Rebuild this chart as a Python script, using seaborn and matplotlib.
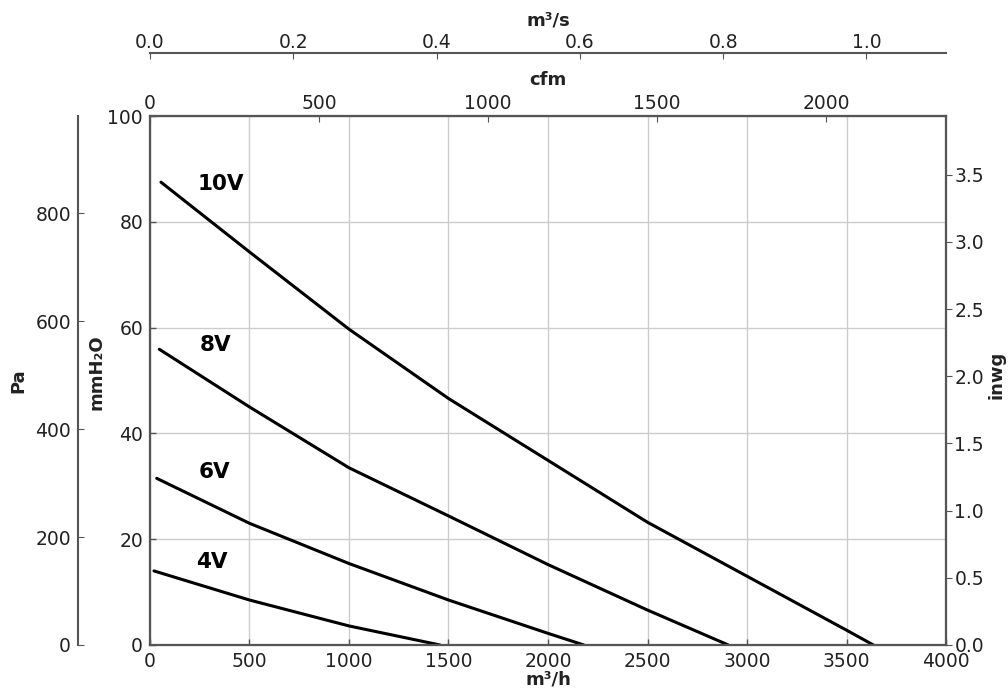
import numpy as np
import pandas as pd
import seaborn as sns
import matplotlib.pyplot as plt
from matplotlib.ticker import FormatStrFormatter

# fan curves: airflow in m3/h, static pressure in mmH2O
speeds = ['10V', '8V', '6V', '4V']
flow_10v = [55, 500, 1000, 1500, 2000, 2500, 3000, 3500, 3635]
pres_10v = [87.5, 74.3, 59.7, 46.6, 34.9, 23.2, 13.0, 2.8, 0.0]
flow_8v = [47, 500, 1000, 1500, 2000, 2500, 2906]
pres_8v = [55.9, 45.0, 33.5, 24.4, 15.2, 6.6, 0.0]
flow_6v = [34, 500, 1000, 1500, 2000, 2180]
pres_6v = [31.5, 23.0, 15.4, 8.5, 2.2, 0.0]
flow_4v = [20, 500, 1000, 1457]
pres_4v = [14.0, 8.5, 3.6, 0.0]

# unit conversions for the extra axes
PA_PER_MMH2O = 9.80665
INWG_PER_MMH2O = 1 / 25.4
CFM_PER_M3H = 1 / 1.699
M3S_PER_M3H = 1 / 3600.0

XMAX = 4000
YMAX = 100

frames = []
for name, fl, pr in zip(speeds,
                        [flow_10v, flow_8v, flow_6v, flow_4v],
                        [pres_10v, pres_8v, pres_6v, pres_4v]):
    frames.append(pd.DataFrame({'flow': fl, 'pressure': pr, 'speed': name}))
df = pd.concat(frames, ignore_index=True)

sns.set_style('whitegrid')
plt.rcParams['font.family'] = ['DejaVu Sans']
txt = '#222222'
spine_col = '#555555'
tick_fs = 13.5
lab_fs = 13

fig = plt.figure(figsize=(10.08, 6.91), dpi=100)
ax = fig.add_axes([0.1488, 0.0666, 0.7897, 0.7655])

sns.lineplot(data=df, x='flow', y='pressure', hue='speed', units='speed',
             estimator=None, sort=False, palette=['black'] * 4,
             linewidth=2.2, legend=False, ax=ax)

ax.set_xlim(0, XMAX)
ax.set_ylim(0, YMAX)
ax.set_xticks(np.arange(0, 4001, 500))
ax.set_yticks(np.arange(0, 101, 20))
ax.grid(True, color='#cccccc', linewidth=1)
ax.set_xlabel('')
ax.set_ylabel('')
ax.tick_params(direction='in', length=4, width=1, color=spine_col,
               labelsize=tick_fs, labelcolor=txt, pad=5)
for s in ax.spines.values():
    s.set_color(spine_col)
    s.set_linewidth(1.5)

# curve labels
label_pos = {'10V': (354, 87.1), '8V': (332, 56.8), '6V': (322, 32.7), '4V': (312, 15.7)}
for name in speeds:
    x, y = label_pos[name]
    ax.text(x, y, name, ha='center', va='center', fontsize=15.5,
            fontweight='bold', color='black')

# right axis: inwg
inw = ax.twinx()
inw.set_ylim(0, YMAX * INWG_PER_MMH2O)
inw.set_yticks(np.arange(0, 3.51, 0.5))
inw.yaxis.set_major_formatter(FormatStrFormatter('%.1f'))
inw.grid(False)
inw.tick_params(direction='out', length=4, color=spine_col,
                labelsize=tick_fs, labelcolor=txt, pad=2)

# left outer axis: Pa
pa = ax.twinx()
pa.set_ylim(0, YMAX * PA_PER_MMH2O)
pa.set_yticks(np.arange(0, 801, 200))
pa.grid(False)
pa.yaxis.set_ticks_position('left')
pa.spines['left'].set_position(('axes', -0.0905))
for side in ['right', 'top', 'bottom']:
    pa.spines[side].set_visible(False)
pa.tick_params(direction='in', length=4, color=spine_col,
               labelsize=tick_fs, labelcolor=txt, pad=5)

# top axis: cfm
cfm = ax.twiny()
cfm.set_xlim(0, XMAX * CFM_PER_M3H)
cfm.set_xticks(np.arange(0, 2001, 500))
cfm.grid(False)
cfm.tick_params(direction='in', length=4, color=spine_col,
                labelsize=tick_fs, labelcolor=txt, pad=2)

# outer top axis: m3/s
m3s = ax.twiny()
m3s.set_xlim(0, XMAX * M3S_PER_M3H)
m3s.set_xticks(np.arange(0, 1.01, 0.2))
m3s.xaxis.set_major_formatter(FormatStrFormatter('%.1f'))
m3s.grid(False)
m3s.spines['top'].set_position(('axes', 1.119))
for side in ['left', 'right', 'bottom']:
    m3s.spines[side].set_visible(False)
m3s.tick_params(direction='in', length=4, color=spine_col,
                labelsize=tick_fs, labelcolor=txt, pad=1)

for a in [inw, pa, cfm, m3s]:
    for s in a.spines.values():
        s.set_color(spine_col)
        s.set_linewidth(1.5)

# axis titles
kw = dict(transform=ax.transAxes, fontsize=lab_fs, fontweight='bold',
          color=txt, ha='center', va='center')
ax.text(0.5, -0.066, 'm³/h', **kw)
ax.text(0.5, 1.068, 'cfm', **kw)
ax.text(0.5, 1.181, 'm³/s', **kw)
ax.text(-0.1658, 0.5, 'Pa', rotation=90, **kw)
ax.text(-0.0666, 0.515, 'mmH₂O', rotation=90, **kw)
ax.text(1.063, 0.51, 'inwg', rotation=90, **kw)

fig.savefig('out.png', dpi=100)
